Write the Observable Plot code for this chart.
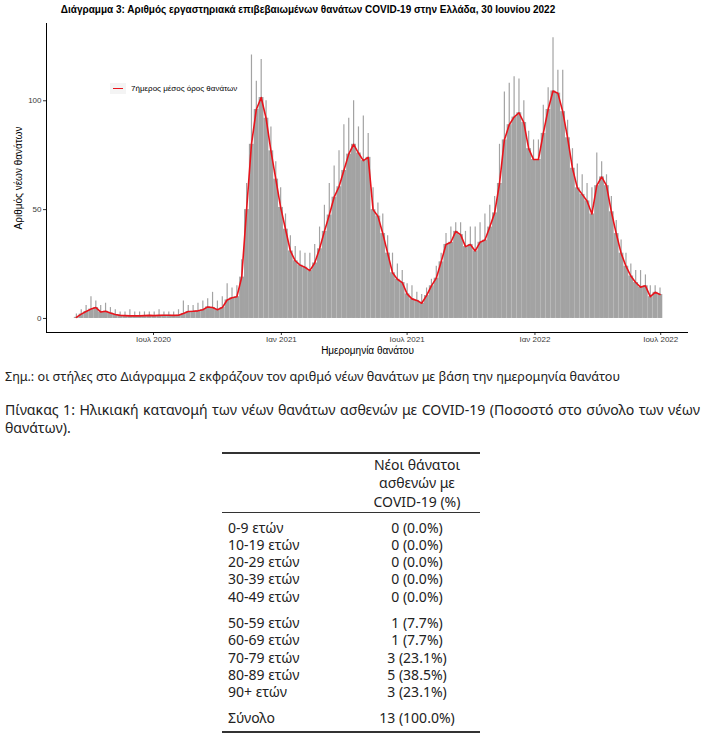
<!DOCTYPE html>
<html>
<head>
<meta charset="utf-8">
<script src="https://cdn.jsdelivr.net/npm/d3@7"></script>
<script src="https://cdn.jsdelivr.net/npm/@observablehq/plot@0.6"></script>
<style>
  body { margin: 0; width: 706px; height: 750px; background: #fff; position: relative; overflow: hidden; font-family: "Noto Sans", sans-serif; color: #222; }
  #title { position: absolute; left: 0; top: 4px; width: 616px; text-align: center; font-family: "Liberation Sans Narrow", "Liberation Sans", Arial, sans-serif; font-weight: bold; font-size: 10px; line-height: 12px; color: #000; white-space: nowrap; }
  #chart { position: absolute; left: 0; top: 20px; }
  #legend { position: absolute; left: 110px; top: 82px; height: 12px; display: flex; align-items: center; font-family: "Liberation Sans", Arial, sans-serif; font-size: 8px; color: #000; white-space: nowrap; }
  #legend .key { width: 16px; height: 11px; background: #f4f4f4; position: relative; margin-right: 5px; }
  #legend .key::after { content: ""; position: absolute; left: 3px; right: 3px; top: 5px; height: 1.6px; background: #e8141c; }
  #note { position: absolute; left: 5px; top: 369px; font-size: 12.6px; line-height: 16px; white-space: nowrap; }
  #caption { position: absolute; left: 5px; top: 401px; width: 695px; font-size: 14.5px; line-height: 18px; }
  #cap1 { display: block; text-align: justify; text-align-last: justify; white-space: nowrap; }
  .rule { position: absolute; left: 222px; width: 258px; background: #333; }
  .cell { position: absolute; font-size: 14px; line-height: 17px; white-space: nowrap; }
  .c1 { left: 228px; }
  .c2 { left: 317px; width: 200px; text-align: center; }
</style>
</head>
<body>
<div id="title"></div>
<div id="chart"></div>
<div id="legend"><div class="key"></div><span id="legendText"></span></div>
<div id="note"></div>
<div id="caption"><div id="cap1"></div><div id="cap2"></div></div>
<div id="table"></div>
<script>
// ---------------- Data ----------------
const titleText = "Διάγραμμα 3: Αριθμός εργαστηριακά επιβεβαιωμένων θανάτων COVID-19 στην Ελλάδα, 30 Ιουνίου 2022";
const yLabel = "Αριθμός νέων θανάτων";
const xLabel = "Ημερομηνία θανάτου";
const legendLabel = "7ήμερος μέσος όρος θανάτων";
const noteText = "Σημ.: οι στήλες στο Διάγραμμα 2 εκφράζουν τον αριθμό νέων θανάτων με βάση την ημερομηνία θανάτου";
const captionLine1 = "Πίνακας 1: Ηλικιακή κατανομή των νέων θανάτων ασθενών με COVID-19 (Ποσοστό στο σύνολο των νέων";
const captionLine2 = "θανάτων).";

// first week (Monday) of the weekly series
const firstWeekStart = "2020-03-09";
// 7-day average of deaths, sampled once per week
const avgDeaths = [
  0.5, 2, 3.2, 4.3, 5, 3, 3.3, 2.5, 1.8, 1.4,
  1.3, 1.2, 1.2, 1.2, 1.3, 1.4, 1.3, 1.4, 1.5, 1.5,
  1.4, 1.5, 2.3, 3.2, 3.3, 3.5, 4, 5.3, 5, 4,
  5, 8.5, 9.5, 10, 19, 50, 80, 96, 101.5, 92,
  77, 64, 51, 41, 31, 26.5, 24.5, 23.5, 22, 25.5,
  32, 40, 47.5, 55.7, 60.5, 68, 75.5, 80, 76, 72.5,
  74, 50, 47, 39, 30, 21, 18, 16.5, 11.3, 9,
  8.3, 7, 10.5, 15, 18.5, 26, 34, 35, 40, 38.5,
  33, 34, 31, 35, 36, 42, 48.5, 62, 82, 89,
  92.5, 94.5, 90, 78, 73, 73, 85, 96, 104.5, 103.5,
  95, 83, 69, 60, 57, 54, 48, 61, 65, 61,
  49, 39, 30, 24, 19.5, 16.5, 14.4, 15, 10, 12,
  11
];
// highest daily death count within each week
const peakDeaths = [
  2, 4, 6, 10, 8, 6, 7, 5, 4, 3,
  3, 4, 3, 3, 3, 3, 3, 4, 3, 3,
  3, 4, 8, 6, 6, 7, 8, 9, 12, 8,
  10, 16, 14, 15, 27, 62, 121, 109, 119, 100,
  88, 72, 60, 48, 38, 33, 31, 30, 30, 34,
  42, 52, 62, 70, 77, 89, 92, 100, 88, 93,
  85, 60, 53, 48, 38, 30, 25, 22, 16, 15,
  12, 11, 14, 18, 24, 30, 39, 42, 44, 44,
  40, 42, 42, 44, 48, 52, 56, 80, 104, 108,
  111, 110, 100, 86, 82, 82, 98, 106, 129, 114,
  114, 91, 78, 71, 66, 62, 60, 76, 72, 66,
  56, 45, 36, 30, 25, 22, 22, 20, 15, 15,
  14
];
const xTickDates = ["2020-07-01", "2021-01-01", "2021-07-01", "2022-01-01", "2022-07-01"];
const xTickLabels = ["Ιουλ 2020", "Ιαν 2021", "Ιουλ 2021", "Ιαν 2022", "Ιουλ 2022"];
const yTicks = [0, 50, 100];
const xDomainDates = ["2020-01-29", "2022-08-10"];
const yDomain = [-6.45, 135.5];

// table
const tableHeader = ["Νέοι θάνατοι", "ασθενών με", "COVID-19 (%)"];
const ageGroups = ["0-9 ετών", "10-19 ετών", "20-29 ετών", "30-39 ετών", "40-49 ετών", "50-59 ετών", "60-69 ετών", "70-79 ετών", "80-89 ετών", "90+ ετών"];
const deathCounts = [0, 0, 0, 0, 0, 1, 1, 3, 5, 3];
const deathPercents = [0.0, 0.0, 0.0, 0.0, 0.0, 7.7, 7.7, 23.1, 38.5, 23.1];
const totalLabel = "Σύνολο";
const totalCount = 13;
const totalPercent = 100.0;

// ---------------- Texts ----------------
document.getElementById("title").textContent = titleText;
document.getElementById("legendText").textContent = legendLabel;
document.getElementById("note").textContent = noteText;
const cap1 = document.getElementById("cap1");
cap1.textContent = captionLine1;
document.getElementById("cap2").textContent = captionLine2;
// shrink caption first line until it fits its box, then justify
(function fitCaption() {
  const probe = document.createElement("span");
  probe.style.cssText = "position:absolute;visibility:hidden;white-space:nowrap;font-family:'Noto Sans',sans-serif;";
  probe.textContent = captionLine1;
  document.body.appendChild(probe);
  let fs = 14.5;
  probe.style.fontSize = fs + "px";
  while (probe.getBoundingClientRect().width > 688 && fs > 10) {
    fs -= 0.1;
    probe.style.fontSize = fs + "px";
  }
  document.body.removeChild(probe);
  document.getElementById("caption").style.fontSize = fs + "px";
})();

// ---------------- Chart ----------------
const start = new Date(firstWeekStart + "T00:00:00Z");
const weeks = avgDeaths.map((v, i) => ({
  start: d3.utcDay.offset(start, 7 * i),
  mid: d3.utcDay.offset(start, 7 * i + 3),
  end: d3.utcDay.offset(start, 7 * i + 7),
  avg: v,
  peak: peakDeaths[i]
}));
const tickDates = xTickDates.map(d => new Date(d + "T00:00:00Z"));
const tickLabelMap = new Map(tickDates.map((d, i) => [+d, xTickLabels[i]]));
const xDomain = xDomainDates.map(d => new Date(d + "T00:00:00Z"));
const gray = "#a3a3a3";

const chart = Plot.plot({
  width: 706,
  height: 344,
  marginLeft: 46,
  marginRight: 18,
  marginTop: 3,
  marginBottom: 32,
  style: { fontFamily: '"Liberation Sans", Arial, sans-serif', fontSize: "8px", background: "white", color: "#333", overflow: "visible" },
  x: { type: "utc", domain: xDomain },
  y: { domain: yDomain },
  marks: [
    Plot.rectY(weeks, { x1: "start", x2: "end", y: "avg", fill: gray, inset: 0 }),
    Plot.ruleX(weeks, { x: "mid", y1: 0, y2: "peak", stroke: gray, strokeWidth: 1.2 }),
    Plot.line(weeks, { x: "mid", y: "avg", stroke: "#e8141c", strokeWidth: 1.6 }),
    Plot.axisY({ ticks: yTicks, tickSize: 3, tickPadding: 2, label: null, tickFormat: d => String(d), stroke: "#333", fill: "#3a3a3a" }),
    Plot.axisX({ ticks: tickDates, tickSize: 3, tickPadding: 1, label: null, tickFormat: d => tickLabelMap.get(+d), stroke: "#333", fill: "#3a3a3a" }),
    Plot.ruleX([xDomain[0]], { stroke: "#000", strokeWidth: 1 }),
    Plot.ruleY([yDomain[0]], { stroke: "#000", strokeWidth: 1 }),
    Plot.text([yLabel], { text: d => d, frameAnchor: "left", textAnchor: "middle", rotate: -90, dx: -28, fill: "#000", fontSize: 10 }),
    Plot.text([xLabel], { text: d => d, frameAnchor: "bottom", textAnchor: "middle", dy: 21, fill: "#000", fontSize: 10 })
  ]
});
document.getElementById("chart").appendChild(chart);

// ---------------- Table ----------------
const table = document.getElementById("table");
function addRule(top, h) {
  const r = document.createElement("div");
  r.className = "rule";
  r.style.top = top + "px";
  r.style.height = h + "px";
  table.appendChild(r);
}
function addCell(cls, top, text) {
  const c = document.createElement("div");
  c.className = "cell " + cls;
  c.style.top = top + "px";
  c.textContent = text;
  table.appendChild(c);
}
addRule(452, 1.6);
tableHeader.forEach((t, i) => addCell("c2", 456 + i * 18.4, t));
addRule(512, 1.2);
const fmt = (n, p) => `${n} (${p.toFixed(1)}%)`;
ageGroups.forEach((g, i) => {
  const top = 518.5 + i * 17.3 + (i >= 5 ? 9 : 0);
  addCell("c1", top, g);
  addCell("c2", top, fmt(deathCounts[i], deathPercents[i]));
});
addCell("c1", 708.5, totalLabel);
addCell("c2", 708.5, fmt(totalCount, totalPercent));
addRule(731, 1.6);
</script>
</body>
</html>
